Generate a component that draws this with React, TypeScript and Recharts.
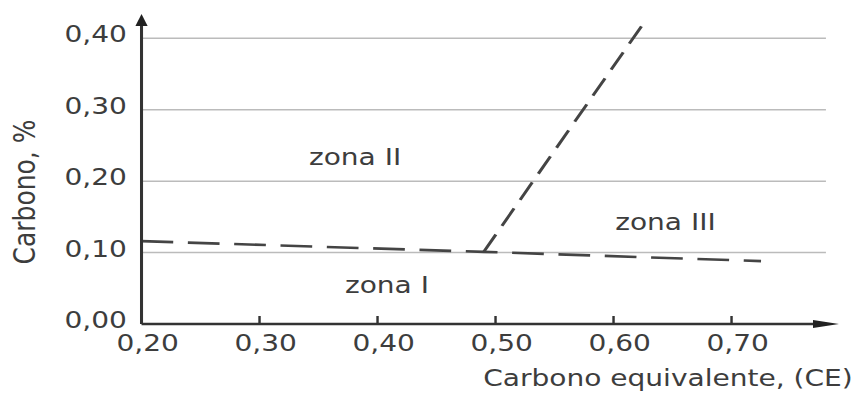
import { LineChart, Line, XAxis, YAxis, ReferenceLine, ReferenceDot } from 'recharts';

// CE vs carbon zones (Graville-style diagram)
const xTicks = [0.2, 0.3, 0.4, 0.5, 0.6, 0.7];
const yTicks = [0, 0.1, 0.2, 0.3, 0.4];
const gridLevels = [0.1, 0.2, 0.3, 0.4];

const lowerBoundary = [
  { ce: 0.2, c: 0.116 },
  { ce: 0.49, c: 0.101 },
  { ce: 0.725, c: 0.088 },
];

const steepBoundary = [
  { ce: 0.49, c: 0.101 },
  { ce: 0.625, c: 0.42 },
];

const zones = [
  { name: 'zona II', ce: 0.381, c: 0.234 },
  { name: 'zona III', ce: 0.644, c: 0.143 },
  { name: 'zona I', ce: 0.408, c: 0.055 },
];

const fmt = (v: number) => v.toFixed(2).replace('.', ',');

const FONT = 'DejaVu Sans';
const INK = '#3d3d3d';

const XTick = ({ x, y, payload }: any) => (
  <g>
    {payload.value > 0.2 && <line x1={x} y1={y} x2={x} y2={y - 8} stroke="#333" strokeWidth={2} />}
    <text x={x + 5} y={y + 27} textAnchor="middle" fontFamily={FONT} fontSize={23} fill={INK}>
      {fmt(payload.value)}
    </text>
  </g>
);

const YTick = ({ x, y, payload }: any) => (
  <text x={x - 12} y={y + 4} textAnchor="end" fontFamily={FONT} fontSize={23} fill={INK}>
    {fmt(payload.value)}
  </text>
);

export default function App() {
  return (
    <div style={{ position: 'absolute', left: 0, top: 0, width: 855, height: 394, overflow: 'hidden', background: '#fff' }}>
      <div style={{ width: 701, height: 394, transform: 'scaleX(1.22)', transformOrigin: '0 0' }}>
        <LineChart width={701} height={394} margin={{ top: 24, right: 24, bottom: 30, left: 16 }}>
          <defs>
            <marker id="arrowY" viewBox="0 -5 12 10" markerWidth={12} markerHeight={10} refX={2} refY={0} orient="auto-start-reverse" markerUnits="userSpaceOnUse">
              <path d="M0,-5 L12,0 L0,5 z" fill="#222" />
            </marker>
            <marker id="arrowX" viewBox="0 -4 22 8" markerWidth={22} markerHeight={8} refX={11} refY={0} orient="auto" markerUnits="userSpaceOnUse">
              <path d="M0,-4 L22,0 L0,4 z" fill="#222" />
            </marker>
          </defs>
          {gridLevels.map((v) => (
            <ReferenceLine key={v} y={v} stroke="#bbb" strokeWidth={1.5} />
          ))}
          <XAxis
            dataKey="ce"
            type="number"
            domain={[0.2, 0.78]}
            ticks={xTicks}
            allowDuplicatedCategory={false}
            height={40}
            tickSize={0}
            tickMargin={0}
            tickLine={false}
            tick={<XTick />}
            axisLine={{ stroke: '#333', strokeWidth: 2.5, markerEnd: 'url(#arrowX)' }}
            label={{
              content: () => (
                <text x={699} y={386} textAnchor="end" fontFamily={FONT} fontSize={23} fill={INK}>
                  Carbono equivalente, (CE)
                </text>
              ),
            }}
          />
          <YAxis
            type="number"
            domain={[0, 0.42]}
            ticks={yTicks}
            width={100}
            tickSize={0}
            tickMargin={0}
            tickLine={false}
            tick={<YTick />}
            axisLine={{ stroke: '#333', strokeWidth: 2.5, markerStart: 'url(#arrowY)' }}
            label={{
              content: () => (
                <text x={29} y={192} transform="rotate(-90 29 192)" textAnchor="middle" fontFamily={FONT} fontSize={25} fill={INK}>
                  Carbono, %
                </text>
              ),
            }}
          />
          <Line
            data={lowerBoundary}
            dataKey="c"
            type="linear"
            stroke="#444"
            strokeWidth={2.6}
            strokeDasharray="26 12"
            dot={false}
            isAnimationActive={false}
          />
          <Line
            data={steepBoundary}
            dataKey="c"
            type="linear"
            stroke="#444"
            strokeWidth={2.6}
            strokeDasharray="20 10"
            dot={false}
            isAnimationActive={false}
          />
          {zones.map((z) => (
            <ReferenceDot
              key={z.name}
              x={z.ce}
              y={z.c}
              r={1}
              fill="none"
              stroke="none"
              label={{ value: z.name, position: 'center', fontFamily: FONT, fontSize: 23, fill: INK }}
            />
          ))}
        </LineChart>
      </div>
    </div>
  );
}
